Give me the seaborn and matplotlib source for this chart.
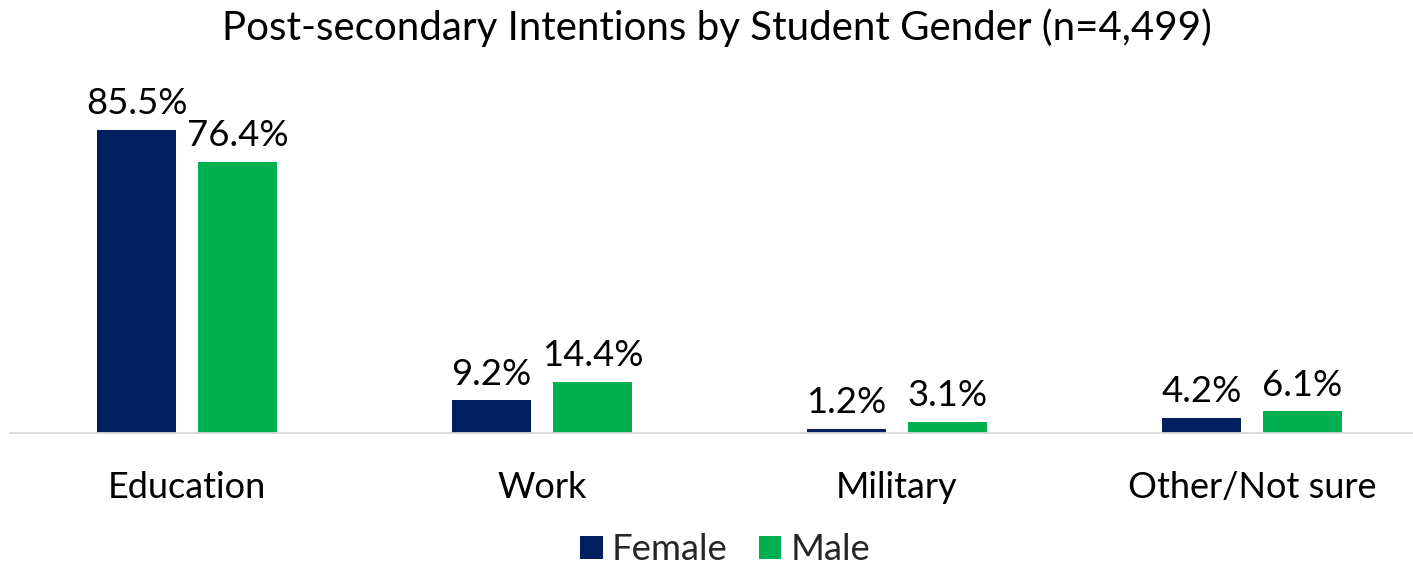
import matplotlib
matplotlib.use("Agg")
import matplotlib.pyplot as plt
import seaborn as sns
import pandas as pd
from matplotlib.patches import Patch

categories = ["Education", "Work", "Military", "Other/Not sure"]
female = [85.5, 9.2, 1.2, 4.2]
male = [76.4, 14.4, 3.1, 6.1]
series_names = ["Female", "Male"]
colors = ["#002060", "#00B050"]
title = "Post-secondary Intentions by Student Gender (n=4,499)"

df = pd.DataFrame({
    "category": categories * 2,
    "value": female + male,
    "gender": ["Female"] * len(categories) + ["Male"] * len(categories),
})

sns.set_style("white")
plt.rcParams["font.family"] = ["Lato", "DejaVu Sans"]

W, H = 1413, 566
fig = plt.figure(figsize=(W / 100, H / 100), dpi=100)
# axes in pixel coordinates: left 10, right 1413, top 77, bottom 433
ax = fig.add_axes([10 / W, 1 - 433 / H, (1413 - 10) / W, (433 - 77) / H])

sns.barplot(data=df, x="category", y="value", hue="gender", order=categories,
            hue_order=series_names, palette=colors, width=0.569, gap=0.218,
            saturation=1, ax=ax, legend=False, edgecolor="none")

ax.set_ylim(0, 100.4)
ax.set_xlim(-0.4986, 3.4535)
for s in ["top", "right", "left"]:
    ax.spines[s].set_visible(False)
ax.spines["bottom"].set_color("#D9D9D9")
ax.spines["bottom"].set_linewidth(1.3)
ax.set_yticks([])
ax.set_xlabel("")
ax.set_ylabel("")
ax.tick_params(axis="x", length=0, pad=27, labelsize=26, labelcolor="black")

for cont in ax.containers:
    ax.bar_label(cont, labels=[f"{v:.1f}%" for v in cont.datavalues],
                 padding=7, fontsize=26.3, color="black")

fig.text(717 / W, 1 - 28 / H, title, ha="center", va="center", fontsize=29, color="black")

handles = [Patch(facecolor=c, edgecolor="none") for c in colors]
fig.legend(handles, series_names, loc="center", bbox_to_anchor=(725 / W, 1 - 550 / H),
           ncol=2, frameon=False, fontsize=26.3, handlelength=0.62, handleheight=0.62,
           handletextpad=0.25, columnspacing=0.85)

fig.savefig("out.png", dpi=100)
